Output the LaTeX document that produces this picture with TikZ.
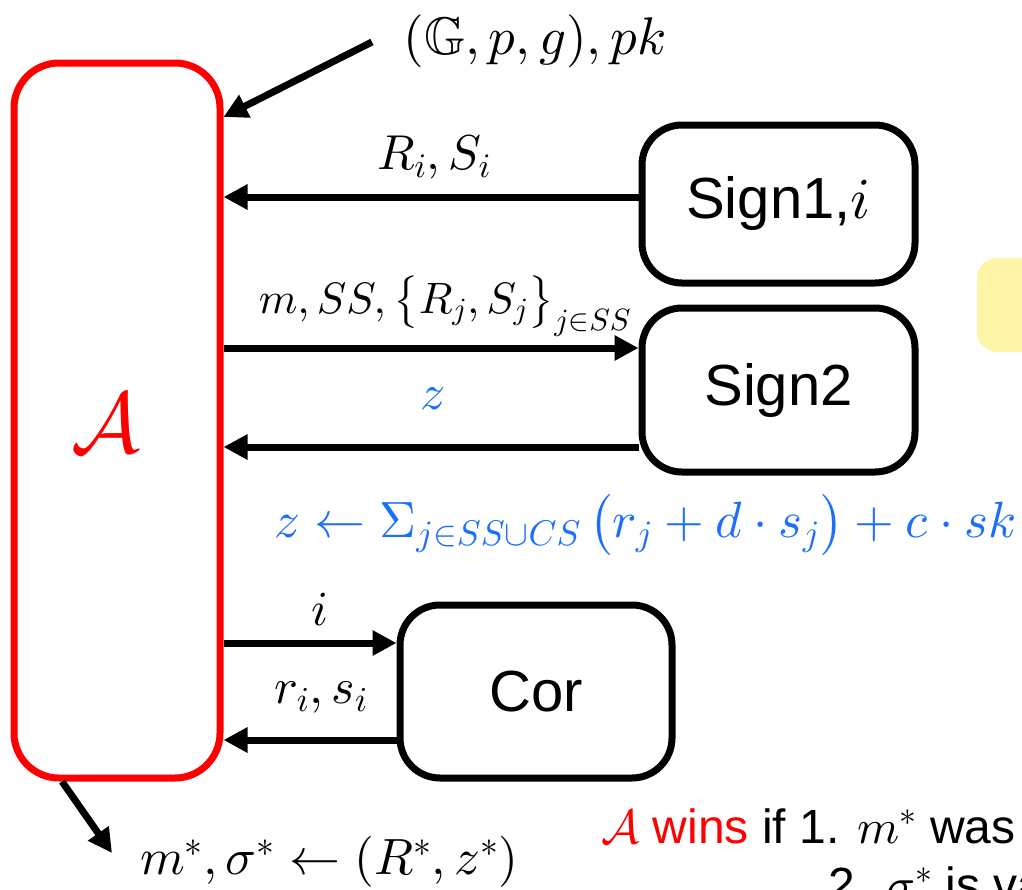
\documentclass[tikz,border=0pt]{standalone}
\DeclareFontShape{OT1}{cmr}{m}{n}{<-> cmr10}{}
\DeclareFontShape{OML}{cmm}{m}{it}{<-> cmmi10}{}
\DeclareFontShape{OMS}{cmsy}{m}{n}{<-> cmsy10}{}
\DeclareFontShape{OMX}{cmex}{m}{n}{<-> cmex10}{}
\DeclareFontFamily{U}{msb}{}
\DeclareFontShape{U}{msb}{m}{n}{<-> msbm10}{}
\usepackage{amssymb}
\usepackage[no-math]{fontspec}
\setmainfont{Liberation Sans}
\usetikzlibrary{arrows.meta}
\definecolor{zblue}{RGB}{28,110,255}
\definecolor{advred}{RGB}{255,0,0}
\definecolor{notey}{RGB}{255,245,168}
\newcommand\myfs[1]{\fontsize{#1}{#1}\selectfont}
\tikzset{
  oracle/.style={draw=black, line width=7pt, rounded corners=40pt, fill=white,
    minimum width=273pt, font=\myfs{58}, inner sep=0pt},
  arr/.style={line width=7pt, -{Triangle[length=24pt,width=24pt]}},
  lab/.style={inner sep=0pt, font=\myfs{49}},
}
\begin{document}
\begin{tikzpicture}[x=1pt,y=-1pt]
\useasboundingbox (0,0) rectangle (1022,889);
\clip (0,0) rectangle (1022,889);
% yellow note box (cut off at right)
\node[fill=notey, rounded corners=20pt, minimum width=100pt, minimum height=94pt, inner sep=0pt] (note) at (1027,305) {};
% adversary
\node[draw=advred, line width=7pt, rounded corners=45pt, minimum width=206pt, minimum height=715pt, inner sep=0pt] (A) at (117,420.5) {};
\node[text=advred, font=\myfs{86}, inner sep=0pt] (Alab) at (106,423) {$\mathcal{A}$};
% oracles
\node[oracle, minimum height=158pt] (sign1) at (778.5,204) {Sign1,$i$};
\node[oracle, minimum height=164pt] (sign2) at (778.5,390) {Sign2};
\node[oracle, minimum width=272pt, minimum height=173pt] (cor) at (536,691.5) {Cor};
% input arrow
\coordinate (inp) at (372,42);
\coordinate (ain) at ([yshift=303.5pt]A.east);
\draw[arr] (inp) -- (ain);
\node[lab, font=\myfs{53}] (inlab) at (535,41) {$(\mathbb{G},p,g),pk$};
% Sign1
\coordinate (s1) at ([yshift=7pt]sign1.west);
\draw[arr] (s1) -- (s1 -| A.east);
\node[lab] (rlab) at (434,158) {$R_i,S_i$};
% Sign2
\coordinate (s2a) at ([yshift=42pt]sign2.west);
\coordinate (s2b) at ([yshift=-57pt]sign2.west);
\draw[arr] (s2a -| A.east) -- (s2a);
\draw[arr] (s2b) -- (s2b -| A.east);
\node[lab, font=\myfs{44}] (mlab) at (445,306) {$m,SS,\left\{\rule[-16pt]{0pt}{54pt}R_j,S_j\right\}_{j\in SS}$};
\node[lab, text=zblue, font=\myfs{50}] (zlab) at (433,399) {$z$};
\node[lab, text=zblue, anchor=west, font=\myfs{51}] (form) at (274,525) {$z\leftarrow \Sigma_{j\in SS\cup CS}\left(\rule[-18pt]{0pt}{60pt}r_j+d\cdot s_j\right)+c\cdot sk$};
% Cor
\coordinate (ca) at ([yshift=48.5pt]cor.west);
\coordinate (cb) at ([yshift=-48.5pt]cor.west);
\draw[arr] (ca -| A.east) -- (ca);
\draw[arr] (cb) -- (cb -| A.east);
\node[lab] (ilab) at (320,609) {$i$};
\node[lab, font=\myfs{50}] (rslab) at (321,698) {$r_i,s_i$};
% output
\coordinate (aout) at ([xshift=-55pt]A.south);
\coordinate (outp) at (112,853);
\draw[arr] (aout) -- (outp);
\node[lab, anchor=west, font=\myfs{51}] (outlab) at (140,862) {$m^*,\sigma^*\leftarrow(R^*,z^*)$};
% winning condition
\node[inner sep=0pt, anchor=base west, font=\myfs{48}] (win1) at (601,843) {\textcolor{advred}{$\mathcal{A}$ wins} if 1. $m^*$ was};
\node[inner sep=0pt, anchor=base west, font=\myfs{48}] (win2) at (828,901) {2. $\sigma^*$ is va};
\end{tikzpicture}
\end{document}
